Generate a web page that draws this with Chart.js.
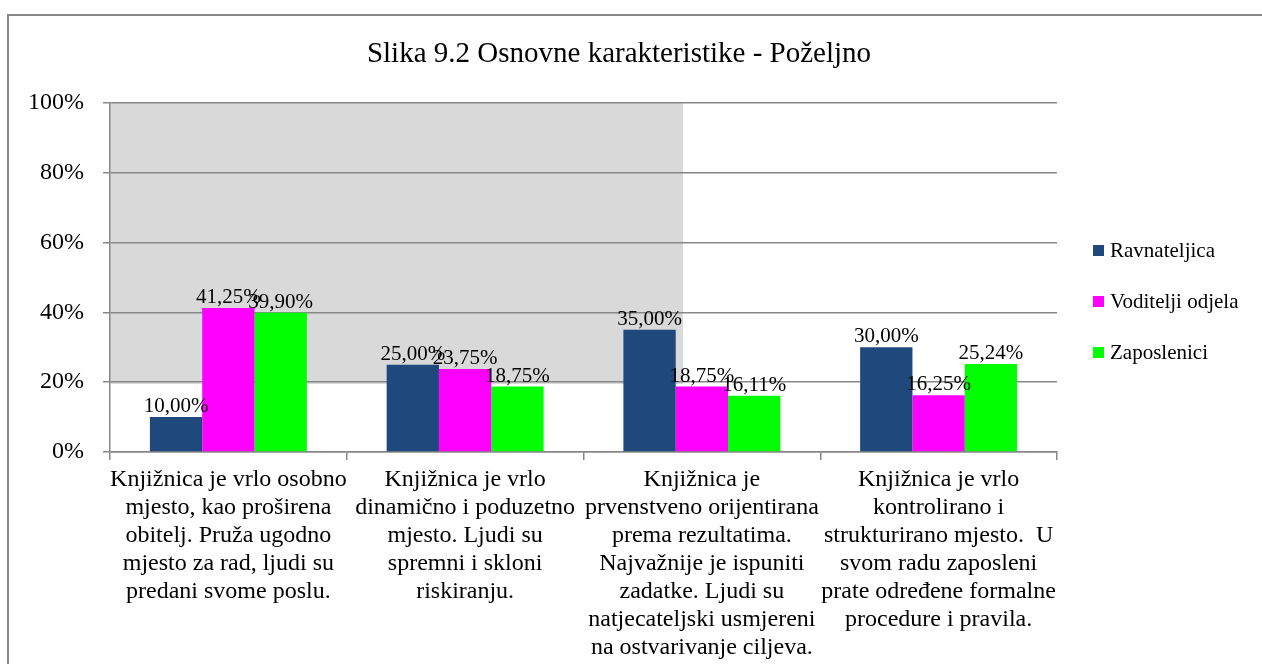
<!DOCTYPE html>
<html>
<head>
<meta charset="utf-8">
<script src="https://cdn.jsdelivr.net/npm/chart.js@4"></script>
<style>
  html, body { margin: 0; padding: 0; background: #fff; overflow: hidden; }
  #frame { position: absolute; left: 7px; top: 14px; width: 1300px; height: 700px;
           border-left: 2px solid #878787; border-top: 2px solid #878787; }
  #wrap { position: absolute; left: 0; top: 0; width: 1262px; height: 664px; }
</style>
</head>
<body>
<div id="frame"></div>
<div id="wrap"><canvas id="chart"></canvas></div>
<script>
// categories (x axis labels, already broken into lines)
const categories = [
    ['Knjižnica je vrlo osobno', 'mjesto, kao proširena', 'obitelj. Pruža ugodno', 'mjesto za rad, ljudi su', 'predani svome poslu.'],
    ['Knjižnica je vrlo', 'dinamično i poduzetno', 'mjesto. Ljudi su', 'spremni i skloni', 'riskiranju.'],
    ['Knjižnica je', 'prvenstveno orijentirana', 'prema rezultatima.', 'Najvažnije je ispuniti', 'zadatke. Ljudi su', 'natjecateljski usmjereni', 'na ostvarivanje ciljeva.'],
    ['Knjižnica je vrlo', 'kontrolirano i', 'strukturirano mjesto.  U', 'svom radu zaposleni', 'prate određene formalne', 'procedure i pravila.']
];
const seriesNames = ['Ravnateljica', 'Voditelji odjela', 'Zaposlenici'];
const ravnateljica = [10.00, 25.00, 35.00, 30.00];
const voditelji = [41.25, 23.75, 18.75, 16.25];
const zaposlenici = [39.90, 18.75, 16.11, 25.24];
const yTicks = [0, 20, 40, 60, 80, 100];
const chartTitle = 'Slika 9.2 Osnovne karakteristike - Poželjno';

const colors = ['#1F497D', '#FF00FF', '#00FF00'];
const serif = "'Liberation Serif', 'Times New Roman', serif";
const gridColor = '#878787';

// grey panel behind the grid (left part of the plot area)
const greyPanel = {
    id: 'greyPanel',
    beforeDraw(chart) {
        const {ctx, chartArea, scales} = chart;
        const yTop = scales.y.getPixelForValue(100);
        const yBot = scales.y.getPixelForValue(19.5);
        const xRight = chartArea.left + chartArea.width * 0.605;
        ctx.save();
        ctx.fillStyle = '#D9D9D9';
        ctx.fillRect(chartArea.left, yTop, xRight - chartArea.left, yBot - yTop);
        ctx.restore();
    }
};

// title, centred over the whole figure
const figTitle = {
    id: 'figTitle',
    afterDraw(chart) {
        const ctx = chart.ctx;
        ctx.save();
        ctx.font = '29px ' + serif;
        ctx.fillStyle = '#000';
        ctx.textAlign = 'center';
        ctx.textBaseline = 'middle';
        ctx.fillText(chartTitle, 619, 54);
        ctx.restore();
    }
};

// value labels above the bars
const valueLabels = {
    id: 'valueLabels',
    afterDatasetsDraw(chart) {
        const ctx = chart.ctx;
        ctx.save();
        ctx.font = '21px ' + serif;
        ctx.fillStyle = '#000';
        ctx.textAlign = 'center';
        ctx.textBaseline = 'alphabetic';
        chart.data.datasets.forEach((ds, i) => {
            chart.getDatasetMeta(i).data.forEach((bar, j) => {
                const txt = ds.data[j].toFixed(2).replace('.', ',') + '%';
                ctx.fillText(txt, bar.x, bar.y - 5);
            });
        });
        ctx.restore();
    }
};

// legend on the right
const sideLegend = {
    id: 'sideLegend',
    afterDraw(chart) {
        const ctx = chart.ctx;
        const x0 = chart.chartArea.right + 36;
        const y0 = 250;
        const step = 51;
        ctx.save();
        ctx.font = '21px ' + serif;
        ctx.textBaseline = 'middle';
        ctx.textAlign = 'left';
        chart.data.datasets.forEach((ds, i) => {
            const y = y0 + i * step;
            ctx.fillStyle = ds.backgroundColor;
            ctx.fillRect(x0, y - 5, 11, 11);
            ctx.fillStyle = '#000';
            ctx.fillText(ds.label, x0 + 17, y + 1);
        });
        ctx.restore();
    }
};

const ctx = document.getElementById('chart').getContext('2d');
new Chart(ctx, {
    type: 'bar',
    data: {
        labels: categories,
        datasets: [
            { label: seriesNames[0], data: ravnateljica, backgroundColor: colors[0] },
            { label: seriesNames[1], data: voditelji, backgroundColor: colors[1] },
            { label: seriesNames[2], data: zaposlenici, backgroundColor: colors[2] }
        ]
    },
    options: {
        responsive: true,
        maintainAspectRatio: false,
        animation: false,
        datasets: { bar: { categoryPercentage: 0.663, barPercentage: 1.0 } },
        layout: { padding: { left: 0, right: 205, top: 103, bottom: 0 } },
        plugins: {
            legend: { display: false },
            tooltip: { enabled: false },
            title: { display: false }
        },
        scales: {
            x: {
                afterFit: s => { s.height = 212; },
                grid: { offset: true, drawOnChartArea: false, tickLength: 8, color: gridColor, lineWidth: 1.5 },
                border: { color: gridColor, width: 1.5 },
                ticks: {
                    color: '#000', maxRotation: 0, autoSkip: false, padding: 6,
                    font: { family: serif, size: 24, lineHeight: '28px' }
                }
            },
            y: {
                min: 0, max: 100,
                afterFit: s => { s.width = 110; },
                afterBuildTicks: s => { s.ticks = yTicks.map(v => ({ value: v })); },
                grid: { color: gridColor, lineWidth: 1.5, tickLength: 7 },
                border: { color: gridColor, width: 1.5 },
                ticks: {
                    color: '#000', padding: 19,
                    font: { family: serif, size: 24 },
                    callback: v => v + '%'
                }
            }
        }
    },
    plugins: [greyPanel, valueLabels, sideLegend, figTitle]
});
</script>
</body>
</html>
